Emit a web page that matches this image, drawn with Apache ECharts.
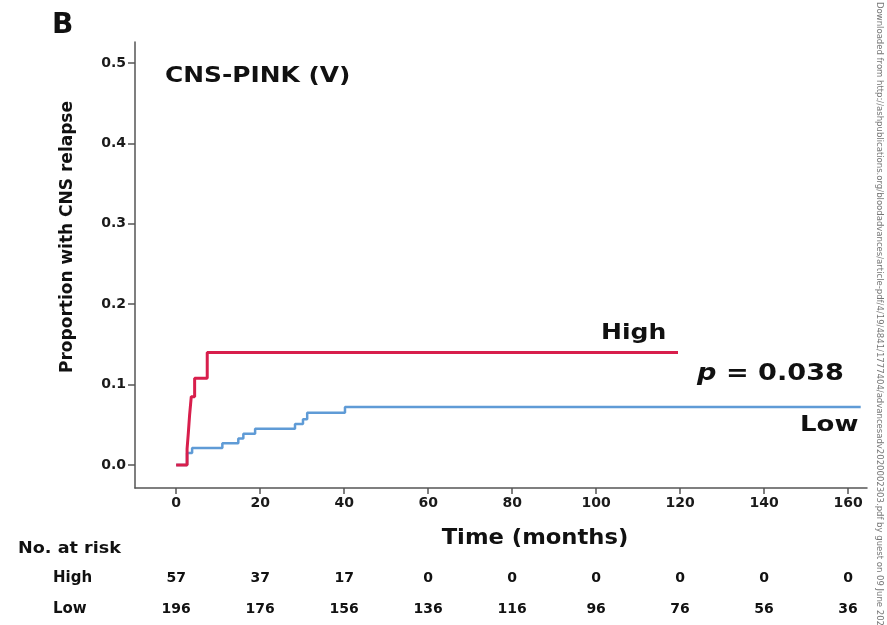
<!DOCTYPE html>
<html>
<head>
<meta charset="utf-8">
<script src="https://cdn.jsdelivr.net/npm/echarts@6/dist/echarts.min.js"></script>
<style>
  html, body { margin: 0; padding: 0; background: #fff; }
  #chart { width: 887px; height: 625px; }
</style>
</head>
<body>
<div id="chart"></div>
<script>
// tick positions
const timeTicks = [0, 20, 40, 60, 80, 100, 120, 140, 160];
const propTicks = [0, 0.1, 0.2, 0.3, 0.4, 0.5];

// cumulative incidence, step curves [months, proportion]
const highCurve = [
  [0, 0], [2.6, 0.02], [2.9, 0.04], [3.2, 0.062], [3.6, 0.085],
  [4.4, 0.108], [7.4, 0.14], [119.5, 0.14]
];
const lowCurve = [
  [0, 0], [2.6, 0.015], [3.8, 0.021], [11.0, 0.027], [14.8, 0.033],
  [16.0, 0.039], [18.8, 0.045], [28.3, 0.051], [30.2, 0.057],
  [31.2, 0.065], [40.2, 0.072], [163, 0.072]
];

// number at risk
const riskGroups = ['High', 'Low'];
const riskHigh = [57, 37, 17, 0, 0, 0, 0, 0, 0];
const riskLow = [196, 176, 156, 136, 116, 96, 76, 56, 36];

const FONT = '"DejaVu Sans", sans-serif';
const axisColor = '#555';

const riskData = [];
timeTicks.forEach((t, i) => {
  riskData.push({ value: [t, 'High', riskHigh[i]] });
  riskData.push({ value: [t, 'Low', riskLow[i]] });
});

const chart = echarts.init(document.getElementById('chart'));

// bold text helper, slightly stretched like the original figure
const txt = (text, x, y, size, extra) => Object.assign({
  type: 'text', x: x, y: y, scaleX: 1.1,
  style: { text: text, font: 'bold ' + size + 'px ' + FONT, fill: '#111', textVerticalAlign: 'middle' }
}, extra || {});

const option = {
  animation: false,
  grid: [
    { left: 135, right: 20, top: 42, bottom: 137 },
    { left: 135, right: 20, top: 563, height: 66 }
  ],
  xAxis: [
    {
      type: 'value', gridIndex: 0, min: -9.8, max: 164.5,
      axisLine: { onZero: false, lineStyle: { color: axisColor, width: 1.5 } },
      axisTick: { show: true, length: 6, customValues: timeTicks, lineStyle: { color: axisColor, width: 1.5 } },
      axisLabel: {
        customValues: timeTicks, color: '#1a1a1a', fontFamily: FONT,
        fontWeight: 'bold', fontSize: 14, margin: 8
      },
      splitLine: { show: false }
    },
    {
      type: 'value', gridIndex: 1, min: -9.8, max: 164.5, show: false
    }
  ],
  yAxis: [
    {
      type: 'value', gridIndex: 0, min: -0.0286, max: 0.526,
      axisLine: { show: true, onZero: false, lineStyle: { color: axisColor, width: 1.5 } },
      axisTick: { show: true, length: 7, customValues: propTicks, lineStyle: { color: axisColor, width: 1.5 } },
      axisLabel: {
        customValues: propTicks, color: '#1a1a1a', fontFamily: FONT,
        fontWeight: 'bold', fontSize: 14, margin: 9,
        formatter: v => v.toFixed(1)
      },
      splitLine: { show: false }
    },
    {
      type: 'category', gridIndex: 1, data: riskGroups, inverse: true,
      axisLine: { show: false }, axisTick: { show: false },
      axisLabel: {
        align: 'left', margin: 82, color: '#111', fontFamily: FONT,
        fontWeight: 'bold', fontSize: 15
      }
    }
  ],
  series: [
    {
      name: 'Low', type: 'line', step: 'end', data: lowCurve,
      xAxisIndex: 0, yAxisIndex: 0, showSymbol: false,
      lineStyle: { color: '#5f9bd6', width: 2.5 }
    },
    {
      name: 'High', type: 'line', step: 'end', data: highCurve,
      xAxisIndex: 0, yAxisIndex: 0, showSymbol: false,
      lineStyle: { color: '#d81e4c', width: 3 }
    },
    {
      type: 'scatter', xAxisIndex: 1, yAxisIndex: 1, data: riskData,
      symbolSize: 0, itemStyle: { opacity: 1 },
      label: {
        show: true, position: 'inside', color: '#111', fontFamily: FONT,
        fontWeight: 'bold', fontSize: 14, opacity: 1,
        formatter: p => String(p.value[2])
      }
    }
  ],
  graphic: [
    txt('B', 52, 26, 28, { scaleX: 1 }),
    txt('CNS-PINK (V)', 165, 76, 22, { scaleX: 1.13 }),
    {
      type: 'text', x: 68, y: 237, rotation: Math.PI / 2,
      style: { text: 'Proportion with CNS relapse', font: 'bold 17px ' + FONT, fill: '#111', textAlign: 'center', textVerticalAlign: 'middle' }
    },
    {
      type: 'text', x: 535, y: 539, scaleX: 1.08,
      style: { text: 'Time (months)', font: 'bold 21px ' + FONT, fill: '#111', textAlign: 'center', textVerticalAlign: 'middle' }
    },
    txt('No. at risk', 18, 549, 16),
    txt('High', 601, 333, 22, { scaleX: 1.14 }),
    {
      type: 'text', x: 697, y: 374, scaleX: 1.18,
      style: {
        text: '{i|p} = 0.038', font: 'bold 23px ' + FONT, fill: '#111', textVerticalAlign: 'middle',
        rich: { i: { fontStyle: 'italic', fontWeight: 'bold', fontSize: 23, fontFamily: FONT, fill: '#111' } }
      }
    },
    txt('Low', 800, 425, 22, { scaleX: 1.18 }),
    {
      type: 'text', x: 879, y: 2, rotation: -Math.PI / 2,
      style: {
        text: 'Downloaded from http://ashpublications.org/bloodadvances/article-pdf/4/19/4841/1777404/advancesadv2020002303.pdf by guest on 09 June 2024',
        font: '8.5px ' + FONT, fill: '#777', textVerticalAlign: 'middle'
      }
    }
  ]
};

chart.setOption(option);
</script>
</body>
</html>
